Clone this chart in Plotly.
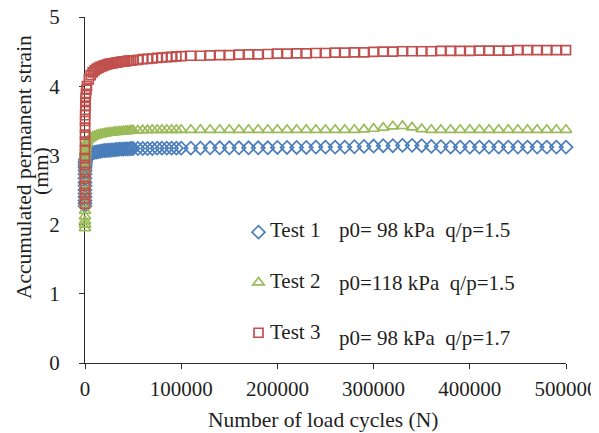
import plotly.graph_objects as go

# Number of load cycles (x values)
cycles = [1, 2, 3, 5, 7, 10, 15, 20, 30, 50, 70, 100, 150, 200, 300, 400, 500, 700, 1000, 1500,
          2000, 4000, 6000, 8000, 10000, 12000, 14000, 16000, 18000, 20000,
          22000, 24000, 26000, 28000, 30000, 32000, 34000, 36000, 38000, 40000,
          42000, 44000, 46000, 48000, 50000,
          55000, 60000, 65000, 70000, 75000, 80000, 85000, 90000, 95000, 100000,
          110000, 120000, 130000, 140000, 150000, 160000, 170000, 180000, 190000, 200000,
          210000, 220000, 230000, 240000, 250000, 260000, 270000, 280000, 290000, 300000,
          310000, 320000, 330000, 340000, 350000, 360000, 370000, 380000, 390000, 400000,
          410000, 420000, 430000, 440000, 450000, 460000, 470000, 480000, 490000, 500000]

test1 = [2.27, 2.31, 2.35, 2.40, 2.45, 2.50, 2.56, 2.61, 2.67, 2.73, 2.78, 2.82, 2.85, 2.87,
         2.89, 2.91, 2.92, 2.94, 2.95, 2.96,
         2.97, 3.00, 3.02, 3.035, 3.045, 3.05, 3.055, 3.06, 3.065, 3.07,
         3.07, 3.075, 3.075, 3.08, 3.08, 3.085, 3.085, 3.09, 3.09, 3.09,
         3.095, 3.095, 3.095, 3.10, 3.10,
         3.10, 3.10, 3.10, 3.10, 3.105, 3.105, 3.105, 3.105, 3.105, 3.105,
         3.105, 3.105, 3.11, 3.11, 3.11, 3.11, 3.11, 3.11, 3.11, 3.115,
         3.115, 3.115, 3.115, 3.12, 3.12, 3.12, 3.12, 3.125, 3.13, 3.135,
         3.14, 3.14, 3.145, 3.145, 3.14, 3.13, 3.125, 3.12, 3.12, 3.12,
         3.12, 3.12, 3.12, 3.12, 3.12, 3.12, 3.12, 3.12, 3.12, 3.12]

test2 = [1.95, 2.00, 2.05, 2.12, 2.20, 2.30, 2.40, 2.48, 2.58, 2.68, 2.76, 2.83, 2.90, 2.95,
         3.00, 3.04, 3.07, 3.11, 3.15, 3.18,
         3.20, 3.23, 3.25, 3.27, 3.28, 3.29, 3.30, 3.305, 3.31, 3.315,
         3.32, 3.325, 3.33, 3.33, 3.335, 3.34, 3.34, 3.345, 3.345, 3.35,
         3.35, 3.355, 3.355, 3.36, 3.36,
         3.36, 3.365, 3.365, 3.37, 3.37, 3.37, 3.37, 3.37, 3.37, 3.37,
         3.37, 3.37, 3.37, 3.37, 3.37, 3.37, 3.37, 3.37, 3.37, 3.37,
         3.37, 3.37, 3.37, 3.37, 3.37, 3.37, 3.37, 3.37, 3.375, 3.385,
         3.40, 3.42, 3.425, 3.405, 3.38, 3.37, 3.37, 3.37, 3.37, 3.37,
         3.37, 3.37, 3.37, 3.37, 3.37, 3.37, 3.37, 3.37, 3.37, 3.37]

test3 = [2.30, 2.38, 2.46, 2.56, 2.66, 2.76, 2.86, 2.96, 3.08, 3.20, 3.30, 3.40, 3.50, 3.58,
         3.66, 3.72, 3.77, 3.83, 3.89, 3.95,
         4.00, 4.10, 4.16, 4.20, 4.23, 4.25, 4.265, 4.28, 4.29, 4.30,
         4.31, 4.32, 4.325, 4.33, 4.335, 4.34, 4.345, 4.35, 4.355, 4.36,
         4.36, 4.365, 4.37, 4.37, 4.375,
         4.38, 4.39, 4.395, 4.40, 4.41, 4.415, 4.42, 4.425, 4.43, 4.435,
         4.44, 4.44, 4.445, 4.45, 4.45, 4.455, 4.46, 4.46, 4.465, 4.47,
         4.47, 4.475, 4.475, 4.48, 4.48, 4.485, 4.485, 4.49, 4.49, 4.495,
         4.50, 4.50, 4.505, 4.505, 4.505, 4.505, 4.51, 4.51, 4.51, 4.51,
         4.515, 4.515, 4.515, 4.515, 4.52, 4.52, 4.52, 4.52, 4.52, 4.52]

series_names = ["Test 1", "Test 2", "Test 3"]
series_desc = ["p0= 98 kPa  q/p=1.5", "p0=118 kPa  q/p=1.5", "p0= 98 kPa  q/p=1.7"]
x_ticks = [0, 100000, 200000, 300000, 400000, 500000]
y_ticks = [0, 1, 2, 3, 4, 5]

colors = ["#4a7ebb", "#9bbb59", "#c0504d"]
symbols = ["diamond-open", "triangle-up-open", "square-open"]
sizes = [10, 10, 9]

FONT = "Liberation Serif"
TXT = "#1f1f1f"
AX = "#2b2b2b"

fig = go.Figure()
for i, ys in enumerate([test1, test2, test3]):
    fig.add_trace(go.Scatter(
        x=cycles, y=ys, mode="markers", name=" ",
        legendgroup=series_names[i],
        marker=dict(symbol=symbols[i], size=sizes[i], color=colors[i],
                    line=dict(width=1.7, color=colors[i])),
        cliponaxis=False,
    ))

# The page body adds an 8px offset; target plot area (in window pixels): x 85..566, y 17..363
OFF = 8
PL, PR, PT, PB = 85, 566, 17, 363
W, H = 599, 433
margin = dict(l=PL - OFF, t=PT - OFF, r=W - (PR - OFF), b=H - (PB - OFF), pad=0)

def px2x(px):
    return (px - PL) / (PR - PL)

def py2y(py):
    return (PB - py) / (PB - PT)

annotations = []
name_rows = [230, 281, 332]
desc_rows = [230, 283, 338]
for i in range(3):
    annotations.append(dict(x=px2x(268), y=py2y(name_rows[i]), xref="paper", yref="paper",
                            text=series_names[i], showarrow=False, xanchor="left", yanchor="middle",
                            font=dict(family=FONT, size=21, color=TXT)))
    annotations.append(dict(x=px2x(337), y=py2y(desc_rows[i]), xref="paper", yref="paper",
                            text=series_desc[i], showarrow=False, xanchor="left", yanchor="middle",
                            font=dict(family=FONT, size=21, color=TXT)))

annotations.append(dict(x=px2x(323), y=py2y(420), xref="paper", yref="paper",
                        text="Number of load cycles (N)", showarrow=False,
                        xanchor="center", yanchor="middle",
                        font=dict(family=FONT, size=21.5, color=TXT)))
annotations.append(dict(x=px2x(24), y=py2y(167), xref="paper", yref="paper",
                        text="Accumulated permanent strain", showarrow=False, textangle=-90,
                        xanchor="center", yanchor="middle",
                        font=dict(family=FONT, size=21.5, color=TXT)))
annotations.append(dict(x=px2x(41), y=py2y(171), xref="paper", yref="paper",
                        text="(mm)", showarrow=False, textangle=-90,
                        xanchor="center", yanchor="middle",
                        font=dict(family=FONT, size=21.5, color=TXT)))

fig.update_layout(
    width=W, height=H,
    margin=margin,
    paper_bgcolor="white", plot_bgcolor="white",
    font=dict(family=FONT, size=21, color=TXT),
    showlegend=True,
    legend=dict(x=px2x(238.5), y=py2y(212), xanchor="left", yanchor="top",
                bgcolor="rgba(0,0,0,0)", tracegroupgap=20,
                font=dict(family=FONT, size=21, color=TXT)),
    annotations=annotations,
    xaxis=dict(range=[0, 500000], tickvals=x_ticks, tickformat="d", automargin=False,
               showgrid=False, zeroline=False, showline=True, linecolor=AX, linewidth=1.3,
               ticks="outside", ticklen=5, tickcolor=AX, tickwidth=1.3,
               ticklabelstandoff=2, ticklabeloverflow="allow", layer="below traces",
               tickfont=dict(family=FONT, size=21, color=TXT)),
    yaxis=dict(range=[0, 5], tickvals=y_ticks, automargin=False,
               showgrid=False, zeroline=False, showline=True, linecolor=AX, linewidth=1.3,
               ticks="outside", ticklen=5, tickcolor=AX, tickwidth=1.3,
               ticklabelstandoff=15, ticklabeloverflow="allow", layer="below traces",
               tickfont=dict(family=FONT, size=21, color=TXT)),
)

fig.write_html("out.html")
